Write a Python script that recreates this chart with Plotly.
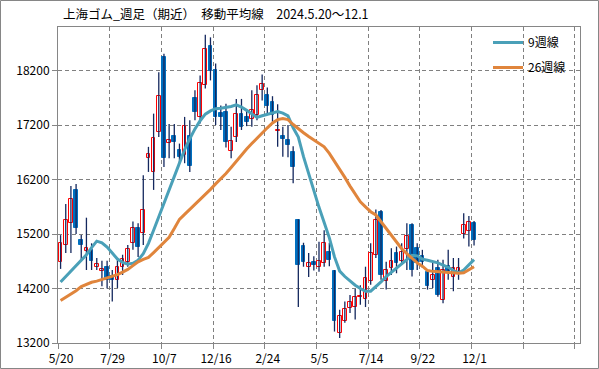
import plotly.graph_objects as go

# ---- data (weekly OHLC, 2024-05-20 .. 2025-12-01) ----
open_ = [14680, 15000, 15400, 16000, 15090, 14895, 14910, 14590, 14520, 14600,
         14430, 14350, 14600, 14690, 15030, 15320, 15210, 16590, 16340, 17070,
         18450, 16880, 17000, 16740, 16650, 17000, 17690, 17350, 17940, 18660,
         18220, 17420, 17440, 16720, 16980, 17410, 17350, 17320, 17380, 17840,
         17750, 17630, 17100, 17000, 16920, 16700, 15460, 14980, 14590, 14690,
         14590, 14670, 14870, 14530, 13390, 13610, 13850, 13870, 14040, 14010,
         14340, 14810, 15600, 14330, 14570, 14850, 14710, 14920, 15370, 14940,
         14800, 14510, 14360, 14570, 13990, 14620, 14420, 14490, 15200, 15260,
         15400]
high = [15180, 15750, 16080, 16120, 15180, 15500, 15030, 14760, 14710, 14710,
        14540, 14720, 14820, 15000, 15430, 15400, 16280, 16800, 17410, 18170,
        18510, 17220, 17220, 16860, 17350, 17290, 17840, 18110, 18860, 18810,
        18330, 17560, 17590, 17170, 17680, 17680, 17470, 17840, 17930, 18130,
        17890, 17730, 17580, 17170, 17200, 16810, 15470, 15040, 14850, 14790,
        15060, 15270, 15040, 14540, 13810, 13960, 14080, 14190, 14260, 14600,
        15030, 15650, 15640, 14690, 14940, 14970, 15030, 15400, 15400, 15030,
        14910, 14540, 14690, 14730, 14730, 14910, 14760, 14760, 15580, 15530,
        15440]
low = [14560, 14850, 14850, 15200, 14700, 14540, 14540, 14540, 14240, 14200,
       13960, 14210, 14450, 14600, 14910, 14780, 15000, 16340, 16010, 16980,
       16430, 16590, 16590, 16500, 16500, 16340, 17290, 17230, 17870, 18020,
       17200, 17110, 16790, 16590, 16890, 17110, 17180, 17170, 17290, 17650,
       17410, 17260, 16800, 16620, 16610, 16130, 13860, 14600, 14410, 14530,
       14510, 14600, 14610, 13410, 13290, 13570, 13750, 13630, 13900, 13860,
       14270, 14760, 14360, 14180, 14450, 14480, 14630, 14540, 14420, 14540,
       14580, 14180, 14210, 14050, 13930, 14360, 14150, 14360, 15120, 14970,
       14990]
close = [15030, 15460, 15840, 15320, 14990, 14940, 14710, 14650, 14560, 14360,
         14350, 14590, 14740, 14920, 15310, 14960, 15650, 16660, 16970, 17730,
         16600, 16920, 16890, 16620, 17180, 16450, 17440, 17980, 18600, 18190,
         17350, 17350, 16890, 16900, 17410, 17170, 17260, 17470, 17750, 17960,
         17550, 17380, 17110, 16940, 16830, 16430, 14630, 14690, 14660, 14640,
         14710, 15030, 14730, 13610, 13700, 13820, 13950, 14040, 14070, 14390,
         14850, 15450, 14440, 14540, 14710, 14670, 14870, 15170, 14540, 14670,
         14690, 14240, 14450, 14080, 14540, 14510, 14570, 14580, 15370, 15420,
         15090]
ma9 = [14320, 14420, 14520, 14620, 14720, 14820, 14950, 15070, 15040, 14960,
       14850, 14740, 14680, 14645, 14665, 14720, 14840, 15030, 15270, 15520,
       15760, 15990, 16250, 16500, 16750, 16950, 17130, 17280, 17400, 17460,
       17500, 17510, 17520, 17540, 17570, 17530, 17470, 17400, 17340, 17370,
       17400, 17430, 17450, 17420, 17370, 17150, 16980, 16620, 16300, 15990,
       15690, 15410, 15130, 14780, 14520, 14420, 14340, 14260, 14200, 14150,
       14150, 14230, 14320, 14420, 14500, 14580, 14660, 14740, 14810, 14800,
       14740, 14720, 14700, 14670, 14630, 14590, 14530, 14490, 14540, 14640,
       14730]
ma26 = [13980, 14040, 14090, 14160, 14235, 14280, 14315, 14335, 14365, 14395,
        14420, 14455, 14500, 14550, 14620, 14690, 14735, 14770, 14860, 14955,
        15040, 15140, 15300, 15470, 15560, 15650, 15740, 15840, 15930, 16020,
        16120, 16210, 16310, 16420, 16540, 16650, 16760, 16860, 16960, 17060,
        17150, 17240, 17300, 17320, 17300, 17210, 17130, 17060, 16990, 16930,
        16860, 16800, 16680, 16540, 16380, 16240, 16080, 15930, 15790, 15700,
        15610, 15550, 15430, 15290, 15180, 15050, 14930, 14840, 14760, 14670,
        14610, 14530, 14515, 14510, 14500, 14490, 14485, 14482, 14490, 14545,
        14600]
week_labels = ['5/20', '7/29', '10/7', '12/16', '2/24', '5/5', '7/14', '9/22', '12/1']
n_slots = 101          # axis has room for 101 weekly slots
y_ticks = [13200, 14200, 15200, 16200, 17200, 18200]
title_text = '上海ゴム_週足（期近）　移動平均線　2024.5.20～12.1'

FONT = 'Noto Sans CJK JP'
UP_LINE, DOWN_FILL, WICK = '#FF0000', '#0070C0', '#14285E'
C9, C26 = '#4AA0B8', '#E0853C'
GRID, AXIS = '#808080', '#868686'

idx = list(range(len(close)))

# wicks
wx, wy = [], []
for i, h, l in zip(idx, high, low):
    wx += [i, i, None]
    wy += [l, h, None]

up = [c >= o for o, c in zip(open_, close)]
body_base = [min(o, c) for o, c in zip(open_, close)]
body_h = [abs(c - o) for o, c in zip(open_, close)]

fig = go.Figure()
fig.add_trace(go.Scatter(x=wx, y=wy, mode='lines', line=dict(color=WICK, width=1.3),
                         showlegend=False, hoverinfo='skip'))
fig.add_trace(go.Bar(x=idx, y=body_h, base=body_base, width=0.72,
                     marker=dict(color=['white' if u else DOWN_FILL for u in up],
                                 line=dict(color=[UP_LINE if u else DOWN_FILL for u in up], width=1)),
                     showlegend=False))
fig.add_trace(go.Scatter(x=idx, y=ma9, mode='lines', name='9週線', legendgroup='a',
                         line=dict(color=C9, width=3)))
fig.add_trace(go.Scatter(x=idx, y=ma26, mode='lines', name='26週線', legendgroup='b',
                         line=dict(color=C26, width=3)))

L, R, T, B = 58, 19, 27, 26
W, H = 599, 369
pw, ph = W - L - R, H - T - B

fig.update_layout(
    width=W, height=H,
    margin=dict(l=L, r=R, t=T, b=B, pad=0, autoexpand=False),
    paper_bgcolor='white', plot_bgcolor='white',
    barmode='overlay', bargap=0,
    font=dict(family=FONT, size=12, color='black'),
    title=dict(text=title_text, x=63 / W, xanchor='left', xref='container',
               y=1 - 15 / H, yanchor='middle', yref='container',
               font=dict(family=FONT, size=12.5, color='black')),
    legend=dict(x=(488 - L) / pw, xanchor='left', y=(H - B - 28) / ph, yanchor='top',
                bgcolor='rgba(0,0,0,0)', font=dict(family=FONT, size=12),
                tracegroupgap=6, traceorder='grouped', itemwidth=30),
    xaxis=dict(range=[-0.5, n_slots - 0.5], tickmode='array',
               tickvals=[-0.5 + 10 * k for k in range(11)],
               ticktext=week_labels + ['', ''],
               ticks='outside', ticklen=5, tickcolor=AXIS, ticklabelshift=3,
               showgrid=True, gridcolor=GRID, griddash='4px,3px', gridwidth=1,
               showline=True, linecolor=AXIS, linewidth=1, mirror=True,
               zeroline=False, automargin=False, tickfont=dict(family=FONT, size=12)),
    yaxis=dict(range=[13200, 19000], tickmode='array', tickvals=y_ticks,
               ticktext=[str(v) for v in y_ticks],
               ticks='outside', ticklen=5, tickcolor=AXIS,
               showgrid=True, gridcolor=GRID, griddash='4px,3px', gridwidth=1,
               showline=True, linecolor=AXIS, linewidth=1, mirror=True,
               zeroline=False, automargin=False, tickfont=dict(family=FONT, size=12)),
    shapes=[dict(type='rect', xref='paper', yref='paper',
                 x0=(0.5 - L) / pw, x1=(W - 0.5 - L) / pw,
                 y0=-(B - 0.5) / ph, y1=(H - B - 0.5) / ph,
                 line=dict(color=AXIS, width=1), fillcolor='rgba(0,0,0,0)', layer='below')],
)

fig.write_html("out.html", config={'displayModeBar': False},
               post_script="document.body.style.margin='0';document.body.style.overflow='hidden';")
